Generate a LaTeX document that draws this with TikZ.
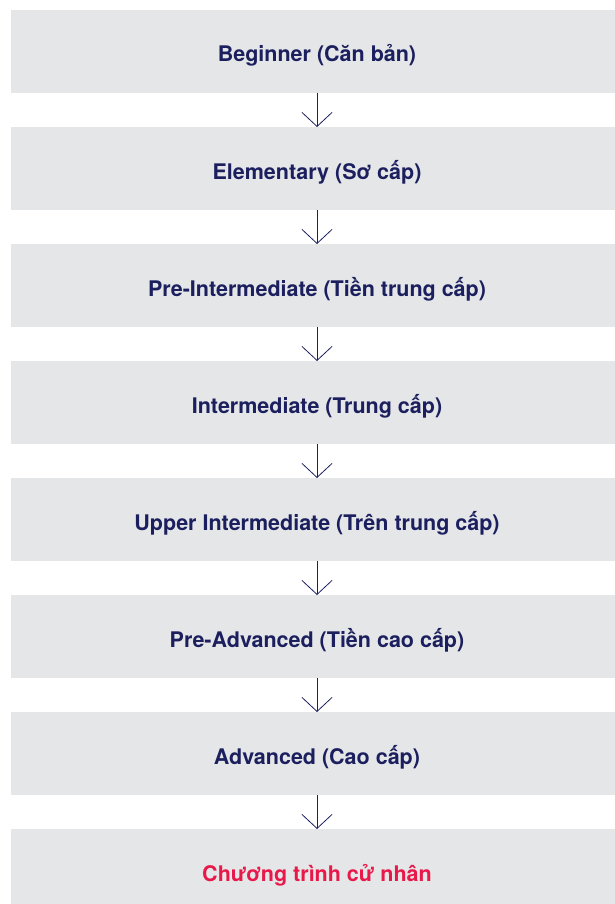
\documentclass[tikz,border=0pt]{standalone}
\usepackage{fontspec}
\setmainfont{TeX Gyre Heros}
\usepackage{xcolor}
\usetikzlibrary{positioning,arrows.meta}
\definecolor{boxgray}{HTML}{E5E6E8}
\definecolor{textnavy}{HTML}{1C1F5E}
\definecolor{textred}{HTML}{E8194A}

\begin{document}
\begin{tikzpicture}[x=1pt,y=-1pt,
  levelbox/.style={fill=boxgray, minimum width=613pt, minimum height=83pt, inner sep=0pt, outer sep=0pt,
    text height=21pt, text depth=0pt,
    font=\fontsize{21.5}{26}\selectfont\bfseries, text=textnavy},
  nextlevel/.style={draw=textnavy, line width=0.8pt, -{Straight Barb[length=14pt,width=30pt,line width=0.8pt]}}]
\useasboundingbox (0,0) rectangle (614,904);
\node[levelbox] (b1) at (317,51.5) {Beginner (Căn bản)};
\node[levelbox, below=34pt of b1] (b2) {Elementary (Sơ cấp)};
\node[levelbox, below=34pt of b2] (b3) {Pre-Intermediate (Tiền trung cấp)};
\node[levelbox, below=34pt of b3] (b4) {Intermediate (Trung cấp)};
\node[levelbox, below=34pt of b4] (b5) {Upper Intermediate (Trên trung cấp)};
\node[levelbox, below=34pt of b5] (b6) {Pre-Advanced (Tiền cao cấp)};
\node[levelbox, below=34pt of b6] (b7) {Advanced (Cao cấp)};
\node[levelbox, below=34pt of b7, text=textred] (b8) {Chương trình cử nhân};

\draw[nextlevel] (b1) -- (b2);
\draw[nextlevel] (b2) -- (b3);
\draw[nextlevel] (b3) -- (b4);
\draw[nextlevel] (b4) -- (b5);
\draw[nextlevel] (b5) -- (b6);
\draw[nextlevel] (b6) -- (b7);
\draw[nextlevel] (b7) -- (b8);
\end{tikzpicture}
\end{document}
